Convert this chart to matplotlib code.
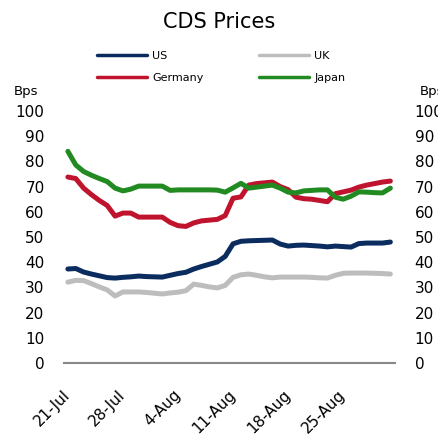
import numpy as np
import matplotlib.pyplot as plt

# daily values, 21-Jul .. 31-Aug
us = [37.3, 37.5, 36.1, 35.3, 34.6, 33.9, 33.7, 34.0, 34.2, 34.5, 34.3, 34.2, 34.1, 34.8,
      35.5, 36.0, 37.3, 38.3, 39.2, 40.1, 42.3, 47.3, 48.3, 48.5, 48.6, 48.7, 48.8, 47.2,
      46.4, 46.7, 46.8, 46.6, 46.4, 46.1, 46.4, 46.2, 46.0, 47.4, 47.6, 47.6, 47.6, 48.0]
uk = [32.1, 32.8, 32.7, 31.5, 30.2, 29.0, 26.6, 28.2, 28.2, 28.2, 28.0, 27.7, 27.4, 27.8,
      28.1, 28.7, 31.3, 30.8, 30.2, 29.8, 30.8, 34.0, 35.0, 35.3, 34.8, 34.2, 33.8, 34.1,
      34.1, 34.1, 34.1, 34.0, 33.8, 33.7, 34.8, 35.6, 35.7, 35.7, 35.7, 35.6, 35.5, 35.3]
germany = [73.8, 73.2, 69.4, 66.8, 64.5, 62.5, 58.3, 59.5, 59.5, 57.9, 57.9, 57.9, 57.9, 55.8,
           54.5, 54.2, 55.6, 56.4, 56.7, 57.0, 58.5, 65.4, 65.9, 70.6, 71.2, 71.5, 71.8, 70.0,
           68.8, 65.8, 65.2, 65.0, 64.5, 64.0, 67.2, 67.9, 68.6, 69.8, 70.6, 71.2, 71.8, 72.2]
japan = [84.0, 78.6, 76.0, 74.5, 73.2, 72.0, 69.4, 68.3, 69.0, 70.2, 70.2, 70.2, 70.2, 68.5,
         68.7, 68.7, 68.7, 68.7, 68.7, 68.6, 67.8, 69.5, 71.3, 69.4, 69.8, 70.2, 70.6, 69.4,
         67.8, 67.5, 68.3, 68.5, 68.7, 68.7, 65.8, 65.0, 66.2, 67.9, 67.8, 67.6, 67.5, 69.4]
tick_days = [0, 7, 14, 21, 28, 35]
tick_labels = ['21-Jul', '28-Jul', '4-Aug', '11-Aug', '18-Aug', '25-Aug']
days = np.arange(len(us))

fig = plt.figure(figsize=(4.38, 4.36), dpi=100)
ax = fig.add_axes([0.146, 0.1674, 0.756, 0.578])

lw = 3.6
ax.plot(days, us, color='#0b2c5f', lw=lw, label='US', solid_capstyle='round')
ax.plot(days, germany, color='#c0142e', lw=lw, label='Germany', solid_capstyle='round')
ax.plot(days, uk, color='#bdbdbd', lw=lw, label='UK', solid_capstyle='round')
ax.plot(days, japan, color='#218a21', lw=lw, label='Japan', solid_capstyle='round')

ax.set_xlim(-0.5, 41.6)
ax.set_ylim(0, 100)
ax.set_yticks(range(0, 101, 10))
ax.set_xticks(tick_days)
ax.set_xticklabels(tick_labels, rotation=45, ha='right', va='center', rotation_mode='anchor')
ax.tick_params(axis='x', length=0, pad=21, labelsize=11)
ax.tick_params(axis='y', length=0, pad=14, labelsize=11, labelright=True)
for s in ['top', 'right', 'left']:
    ax.spines[s].set_visible(False)
ax.spines['bottom'].set_color('#888888')
ax.spines['bottom'].set_linewidth(1.5)

fig.text(0.5, 0.95, 'CDS Prices', ha='center', va='center', fontsize=15)
fig.text(0.032, 0.791, 'Bps', ha='left', va='center', fontsize=9.5)
fig.text(0.959, 0.791, 'Bps', ha='left', va='center', fontsize=9.5)

leg = fig.legend(loc='center', bbox_to_anchor=(0.505, 0.847), ncol=2, frameon=False,
                 fontsize=8, handlelength=4.5, handletextpad=0.45, columnspacing=5,
                 labelspacing=1.1, borderpad=0)
for line in leg.get_lines():
    line.set_linewidth(2.5)

fig.savefig('out.png', dpi=100)
